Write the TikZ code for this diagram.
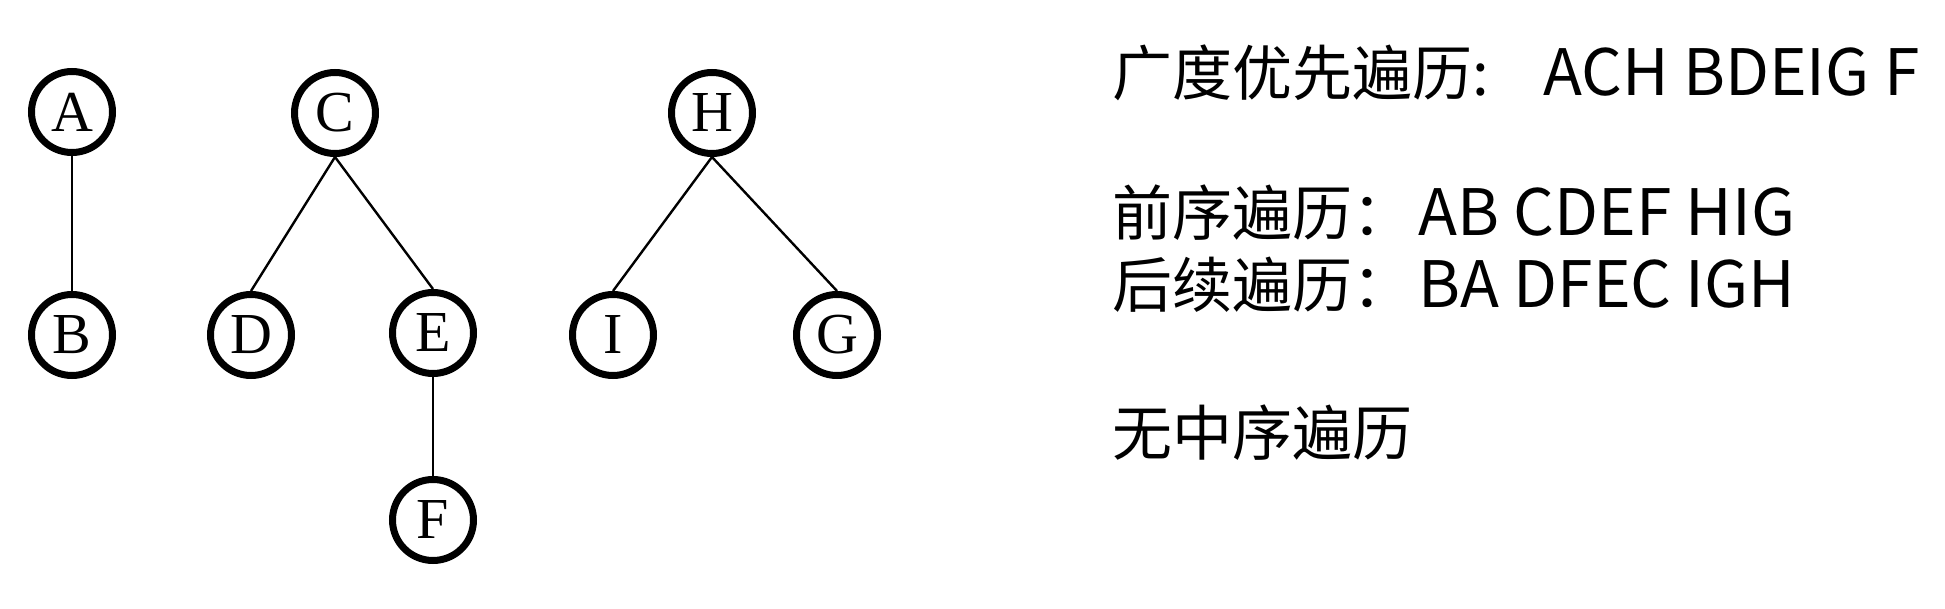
\documentclass[tikz,border=0pt]{standalone}
\usepackage{fontspec}
\setmainfont{Liberation Serif}
\newfontfamily\cjk{Noto Sans CJK SC}
\newcommand\latn[1]{{\fontsize{32}{36}\selectfont #1}}
\begin{document}
\begin{tikzpicture}[x=0.5pt,y=-0.5pt,
  vtx/.style={circle,draw,line width=3.5pt,minimum size=40.5pt,inner sep=0pt,font=\fontsize{29}{29}\selectfont},
  edge/.style={line width=1.2pt},
  lbl/.style={anchor=base west,inner sep=0pt,font=\cjk\fontsize{30}{36}\selectfont}]
\useasboundingbox (0,0) rectangle (1945,609);
\node[vtx] (A) at (72,112) {A};
\node[vtx] (B) at (72,335) {B};
\node[vtx] (C) at (335,113) {C};
\node[vtx] (D) at (251,335) {D};
\node[vtx] (E) at (433,333) {E};
\node[vtx] (F) at (433,520) {F};
\node[vtx] (H) at (712,113) {H};
\node[vtx] (I) at (613,335) {I};
\node[vtx] (G) at (837,335) {G};
\draw[edge] (A.south) -- (B.north);
\draw[edge] (C.south) -- (D.north);
\draw[edge] (C.south) -- (E.north);
\draw[edge] (E.south) -- (F.north);
\draw[edge] (H.south) -- (I.north);
\draw[edge] (H.south) -- (G.north);
\node[lbl] (t1) at (1112,96) {广度优先遍历:\hspace{0.9em}\latn{ACH BDEIG F}};
\node[lbl] (t2) at (1112,236) {前序遍历：\hspace{0.1em}\latn{AB CDEF HIG}};
\node[lbl] (t3) at (1112,308) {后续遍历：\hspace{0.1em}\latn{BA DFEC IGH}};
\node[lbl] (t4) at (1112,455) {无中序遍历};
\end{tikzpicture}
\end{document}
